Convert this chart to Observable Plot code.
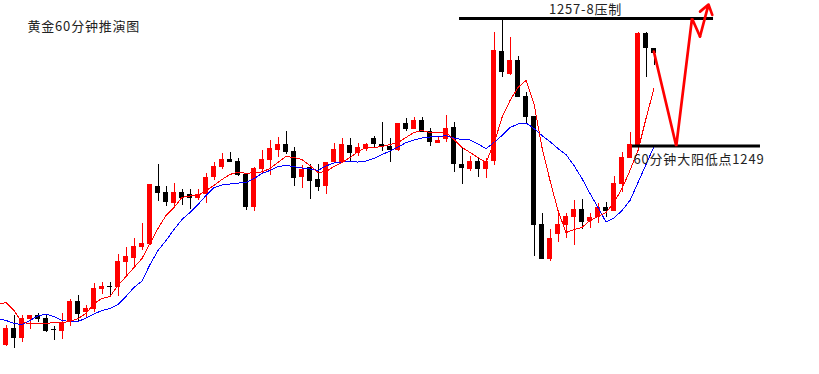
<!DOCTYPE html>
<html><head><meta charset="utf-8">
<script src="https://cdn.jsdelivr.net/npm/d3@7"></script>
<script src="https://cdn.jsdelivr.net/npm/@observablehq/plot@0.6"></script>
<style>html,body{margin:0;padding:0;background:#fff}svg{display:block}svg text{letter-spacing:0.8px}</style>
</head><body><div id="chart"></div>
<script>
// 60-minute gold candles (index 0..81)
const opens = [1235.70,1236.83,1236.17,1237.43,1237.70,1237.50,1236.77,1236.63,1237.23,1238.63,
1237.90,1238.10,1239.43,1239.63,1239.57,1241.23,1241.50,1242.23,1242.43,1246.30,
1245.90,1245.17,1245.90,1245.77,1245.50,1245.77,1246.90,1247.57,1248.10,1247.97,
1247.10,1244.90,1247.43,1248.03,1248.70,1249.10,1248.63,1246.90,1247.57,1246.77,
1246.30,1247.90,1247.90,1249.03,1248.50,1248.77,1249.50,1249.10,1248.97,1248.70,
1250.50,1250.10,1250.70,1249.97,1249.17,1249.43,1250.23,1247.77,1247.43,1247.97,
1247.43,1247.97,1255.30,1253.77,1254.70,1252.30,1250.97,1243.77,1241.43,1243.10,
1243.70,1244.23,1244.77,1243.97,1244.23,1244.90,1244.63,1246.43,1248.17,1249.03,
1256.50,1255.50];
const highs = [1237.03,1237.70,1237.70,1237.70,1237.83,1237.77,1236.97,1237.83,1238.77,1239.03,
1238.37,1239.83,1239.90,1239.90,1241.77,1242.23,1242.83,1243.83,1246.43,1247.77,
1246.30,1246.50,1246.10,1246.10,1246.10,1247.17,1247.90,1248.50,1248.57,1248.17,
1247.10,1247.57,1248.70,1249.37,1249.57,1249.97,1248.90,1247.70,1247.77,1247.77,
1247.90,1249.17,1249.50,1249.50,1249.17,1249.17,1249.63,1250.57,1249.50,1250.50,
1250.83,1250.90,1250.90,1250.17,1249.63,1251.03,1250.57,1248.83,1248.30,1248.23,
1248.17,1256.57,1257.43,1256.23,1254.97,1252.57,1250.97,1244.50,1243.43,1244.50,
1244.50,1245.37,1245.43,1244.50,1245.17,1245.23,1246.97,1248.57,1249.90,1256.57,
1256.57,1255.50];
const lows = [1235.63,1235.50,1235.90,1236.77,1237.23,1236.57,1236.03,1236.10,1236.97,1237.30,
1237.50,1237.90,1239.10,1238.90,1238.97,1240.30,1240.83,1242.03,1242.37,1245.30,
1244.97,1244.90,1245.03,1244.77,1245.37,1245.17,1246.70,1247.43,1247.90,1246.97,
1244.70,1244.63,1247.10,1247.03,1248.23,1248.43,1246.30,1246.17,1245.43,1245.97,
1245.77,1247.83,1247.83,1247.90,1248.30,1248.63,1248.90,1248.63,1247.90,1248.63,
1249.97,1250.10,1249.90,1248.97,1249.17,1249.23,1247.23,1246.43,1247.30,1246.90,
1246.83,1247.70,1253.57,1253.70,1252.23,1250.43,1241.63,1241.43,1241.30,1242.57,
1242.83,1242.37,1243.43,1243.50,1243.83,1244.23,1244.63,1245.90,1248.17,1249.03,
1253.57,1254.37];
const closes = [1236.83,1236.17,1237.50,1237.70,1237.43,1236.63,1236.67,1237.17,1238.63,1237.77,
1238.17,1239.50,1239.63,1239.57,1241.30,1241.63,1242.30,1242.50,1246.43,1245.83,
1245.23,1245.90,1245.50,1245.50,1245.77,1246.90,1247.63,1248.10,1247.90,1247.03,
1244.90,1247.50,1248.10,1248.83,1249.10,1248.57,1246.83,1247.43,1246.63,1246.23,
1247.90,1248.77,1249.10,1248.50,1248.90,1249.10,1249.10,1248.90,1248.70,1250.50,
1250.10,1250.70,1249.90,1249.23,1249.37,1250.17,1247.77,1247.50,1247.97,1247.43,
1247.97,1255.37,1253.90,1254.70,1252.23,1250.90,1243.70,1241.43,1242.83,1243.77,
1244.30,1244.77,1243.90,1244.23,1244.90,1244.63,1246.50,1248.23,1249.10,1256.50,
1255.50,1255.17];

// moving averages, index -1..81
const maStart = -1;
const maFast = [1238.43,1238.57,1238.03,1237.23,1237.17,1237.17,1237.17,1237.23,1237.23,1237.30,1237.50,
1237.83,1238.50,1238.83,1238.97,1239.70,1240.30,1240.90,1241.50,1242.50,1243.50,
1244.37,1244.90,1245.57,1245.67,1245.70,1246.03,1246.37,1246.77,1247.10,1247.27,
1247.17,1247.23,1247.27,1247.50,1247.90,1248.30,1248.23,1248.10,1247.70,1247.23,
1247.30,1247.63,1247.90,1248.23,1248.63,1248.90,1248.90,1248.97,1249.10,1249.23,
1249.57,1249.90,1250.03,1249.90,1249.90,1249.90,1249.43,1248.90,1248.57,1248.23,
1247.90,1249.17,1250.90,1252.03,1252.90,1253.37,1251.83,1248.90,1246.70,1244.70,
1243.23,1243.43,1243.57,1244.03,1244.30,1244.57,1245.23,1246.17,1247.37,1248.70,
1250.83,1252.83];
const maSlow = [1237.47,1237.37,1237.17,1237.10,1237.37,1237.67,1237.80,1237.63,1237.37,1237.30,1237.30,
1237.53,1237.80,1238.03,1238.17,1238.43,1238.97,1239.57,1240.00,1241.10,1242.03,
1242.70,1243.43,1244.10,1244.57,1245.10,1245.70,1246.23,1246.40,1246.47,1246.53,
1246.57,1246.83,1247.17,1247.37,1247.63,1247.70,1247.63,1247.53,1247.47,1247.37,
1247.67,1247.87,1247.93,1247.97,1247.93,1248.00,1248.17,1248.43,1248.67,1248.92,
1249.23,1249.40,1249.53,1249.60,1249.63,1249.69,1249.53,1249.43,1249.40,1249.13,
1248.83,1249.23,1249.70,1250.23,1250.47,1250.53,1250.17,1249.70,1249.30,1248.83,
1248.43,1247.70,1246.83,1245.83,1244.90,1243.93,1244.20,1244.70,1245.37,1246.57,
1247.77,1248.97];

// annotations
const titleText = "黄金60分钟推演图";
const resistanceLevel = 1257.5, resistanceFrom = 56.69, resistanceTo = 88.44;
const resistanceLabel = "1257-8压制", resistanceLabelX = 72.44;
const supportLevel = 1249, supportFrom = 78.31, supportTo = 94.31;
const supportLabel = "60分钟大阳低点1249", supportLabelX = 78.44;
const pathX = [80.98, 83.78, 85.75, 86.75];
const pathY = [1255.30, 1249.00, 1257.50, 1256.30];
const arrowTip = {x: 87.81, y: 1258.43};

const candles = opens.map((o, i) => ({i, o, h: highs[i], l: lows[i], c: closes[i]}));
const up = candles.filter(d => d.c > d.o), down = candles.filter(d => d.c <= d.o);
const ma = maFast.map((v, k) => ({i: k + maStart, fast: v, slow: maSlow[k]}));
const path = pathX.map((x, k) => ({x, y: pathY[k]}));
const half = 0.3125, minBody = 1 / 15;
const bodyLo = d => Math.min(d.o, d.c);
const bodyHi = d => Math.max(Math.max(d.o, d.c), Math.min(d.o, d.c) + minBody);

const W = 819, H = 374;
const font = "'Noto Sans CJK SC', 'Noto Sans', sans-serif";

const chart = Plot.plot({
  width: W, height: H,
  margin: 0,
  x: {type: "linear", domain: [-0.6875, -0.6875 + W / 8], range: [0, W], axis: null},
  y: {type: "linear", domain: [1258.7 - H / 15, 1258.7], range: [H, 0], axis: null},
  style: {background: "#fff", fontFamily: font},
  marks: [
    Plot.ruleX(up, {x: "i", y1: "l", y2: "h", stroke: "#ff0000", strokeWidth: 1, shapeRendering: "crispEdges"}),
    Plot.ruleX(down, {x: "i", y1: "l", y2: "h", stroke: "#000000", strokeWidth: 1, shapeRendering: "crispEdges"}),
    Plot.rect(up, {x1: d => d.i - half, x2: d => d.i + half, y1: bodyLo, y2: bodyHi, fill: "#ff0000", shapeRendering: "crispEdges"}),
    Plot.rect(down, {x1: d => d.i - half, x2: d => d.i + half, y1: bodyLo, y2: bodyHi, fill: "#000000", shapeRendering: "crispEdges"}),
    Plot.line(ma, {x: "i", y: "slow", stroke: "#0000ff", strokeWidth: 1, clip: true, shapeRendering: "crispEdges"}),
    Plot.line(ma, {x: "i", y: "fast", stroke: "#ff0000", strokeWidth: 1, clip: true, shapeRendering: "crispEdges"}),
    Plot.ruleY([resistanceLevel], {x1: resistanceFrom, x2: resistanceTo, stroke: "#000", strokeWidth: 3}),
    Plot.ruleY([supportLevel], {x1: supportFrom, x2: supportTo, stroke: "#000", strokeWidth: 3}),
    Plot.line(path, {x: "x", y: "y", stroke: "#ff0000", strokeWidth: 2.7, strokeLinejoin: "miter"}),
    Plot.arrow([arrowTip], {x1: () => pathX[pathX.length - 1], y1: () => pathY[pathY.length - 1], x2: "x", y2: "y", stroke: "#ff0000", strokeWidth: 2.7, headLength: 10, headAngle: 70}),
    Plot.text([resistanceLabel], {x: resistanceLabelX, y: resistanceLevel, dy: -9, text: d => d, textAnchor: "middle", lineAnchor: "middle", fontSize: 13, fill: "#222"}),
    Plot.text([supportLabel], {x: supportLabelX, y: supportLevel, dy: 14, text: d => d, textAnchor: "start", lineAnchor: "middle", fontSize: 13, fill: "#222"}),
    Plot.text([titleText], {frameAnchor: "top-left", dx: 27, dy: 26, text: d => d, textAnchor: "start", lineAnchor: "middle", fontSize: 13, fill: "#222"})
  ]
});
document.getElementById("chart").appendChild(chart);
</script>
</body></html>
